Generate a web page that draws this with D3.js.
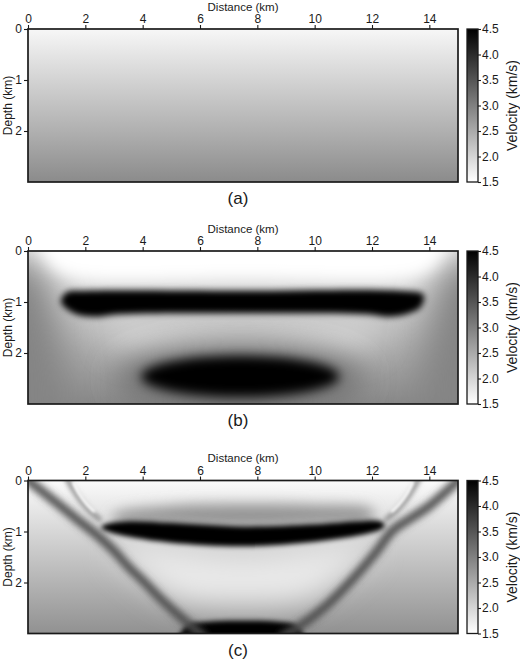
<!DOCTYPE html>
<html><head><meta charset="utf-8">
<script src="https://cdn.jsdelivr.net/npm/d3@7"></script>
<style>
body{margin:0;background:#fff}
svg{display:block}
text{font-family:"Liberation Sans",Arial,Helvetica,sans-serif;fill:#1a1a1a}
</style></head>
<body><svg id="chart" width="520" height="661"></svg>
<script>
// ---------------- data ----------------
const distanceTicks = [0, 2, 4, 6, 8, 10, 12, 14];
const depthTicks = [0, 1, 2];
const velocityTicks = [1.5, 2.0, 2.5, 3.0, 3.5, 4.0, 4.5];
const panelLabels = ["(a)", "(b)", "(c)"];
const distanceRange = [0, 15];   // km
const depthRange = [0, 3];       // km
const velocityRange = [1.5, 4.5];// km/s

// background velocity vs depth (km/s) at depths 0,1,2,3 km
const bgDepths = [0, 1, 2, 3];
const bgVelA = [1.6, 2.02, 2.43, 2.87];
const bgVelB = [1.6, 2.05, 2.5, 2.9];
const bgVelC = [1.55, 1.97, 2.38, 2.8];

// bodies of model (b): outlines in km (x distance, z depth), velocity km/s, smoothing length km
const bodiesB = [
  {kind:"area", v:2.95, smooth:0.35, pts:[[-1.5,0.1],[0.4,0.3],[1.0,1.2],[1.1,3.6],[-1.5,3.6]]},
  {kind:"area", v:2.95, smooth:0.35, pts:[[16.5,0.1],[14.6,0.3],[14.0,1.2],[13.9,3.6],[16.5,3.6]]},
  {kind:"area", v:1.5, smooth:0.15, pts:[[0.5,-0.5],[14.5,-0.5],[14.3,0.2],[13.6,0.47],[7.5,0.52],[1.4,0.47],[0.7,0.2]]},
  {kind:"area", v:2.0, smooth:0.3, pts:[[2.8,1.45],[7.5,1.42],[12.2,1.45],[11.8,1.9],[7.5,1.95],[3.2,1.9]]},
  {kind:"ellipse", v:3.2, smooth:0.3, cx:7.4, cz:2.5, rx:4.3, rz:0.65},
  {kind:"ellipse", v:4.7, smooth:0.1, cx:7.4, cz:2.46, rx:3.45, rz:0.4},
  {kind:"area", v:4.7, smooth:0.06, pts:[[1.15,1.0],[1.35,0.81],[2,0.78],[7.5,0.78],[13,0.78],[13.8,0.86],[13.7,1.1],[13.2,1.24],[12.6,1.29],[11.8,1.24],[7.5,1.22],[3.2,1.24],[2.3,1.29],[1.6,1.22]]}
];

// bodies of model (c)
const bodiesC = [
  {kind:"area", v:2.75, smooth:0.13, pts:[[3.0,0.68],[5,0.5],[7.5,0.46],[10,0.48],[12.0,0.58],[12.0,0.8],[10,0.88],[7.5,0.92],[5,0.88],[3.0,0.84]]},
  {kind:"area", v:1.75, smooth:0.3, pts:[[3,1.3],[7.5,1.42],[12,1.3],[11,1.9],[9.8,2.35],[7.5,2.45],[5.2,2.35],[4,1.9]]},
  {kind:"area", v:4.7, smooth:0.05, pts:[[5.5,2.86],[6.3,2.77],[7.5,2.75],[8.7,2.77],[9.4,2.86],[9.7,3.4],[5.2,3.4]]},
  {kind:"line", v:3.6, width:0.17, smooth:0.07, pts:[[-0.1,-0.05],[1.0,0.44],[1.75,0.78],[2.45,1.09],[3.0,1.38],[3.48,1.68],[4.1,2.02],[4.64,2.33],[5.57,2.8],[6.1,3.05]]},
  {kind:"line", v:3.6, width:0.17, smooth:0.07, pts:[[15.1,-0.05],[14.0,0.5],[13.3,0.76],[12.72,0.98],[12.12,1.42],[11.32,1.94],[10.4,2.46],[9.47,2.86],[8.9,3.05]]},
  {kind:"line", v:2.9, width:0.09, smooth:0.05, pts:[[1.35,-0.05],[1.55,0.15],[1.85,0.4],[2.2,0.62],[2.5,0.76]]},
  {kind:"line", v:2.9, width:0.09, smooth:0.05, pts:[[13.65,-0.05],[13.45,0.15],[13.15,0.4],[12.8,0.62],[12.5,0.76]]},
  {kind:"line", v:1.5, width:0.06, smooth:0.03, pts:[[1.6,0.05],[1.8,0.27],[2.08,0.48],[2.3,0.6]]},
  {kind:"line", v:1.5, width:0.06, smooth:0.03, pts:[[13.4,0.05],[13.2,0.27],[12.92,0.48],[12.7,0.6]]},
  {kind:"area", v:4.7, smooth:0.05, pts:[[2.7,0.86],[3.5,0.8],[5,0.83],[7.5,0.9],[10,0.86],[11.5,0.8],[12.3,0.8],[12.45,0.88],[12.3,0.96],[11.5,1.08],[10,1.2],[7.5,1.29],[5,1.22],[3.5,1.1],[2.7,0.98],[2.55,0.92]]}
];

const panels = [
  {label: panelLabels[0], bg: bgVelA, bodies: []},
  {label: panelLabels[1], bg: bgVelB, bodies: bodiesB},
  {label: panelLabels[2], bg: bgVelC, bodies: bodiesC}
];

// ---------------- layout ----------------
const svg = d3.select("#chart");
const left = 28, right = 458, plotH = 153;
const tops = [29, 251, 480.5];
const cbX = 467, cbW = 11;
const fontFam = "Liberation Sans, Arial, Helvetica, sans-serif";

const x = d3.scaleLinear().domain(distanceRange).range([0, right - left]);
const z = d3.scaleLinear().domain(depthRange).range([0, plotH]);
const color = d3.scaleLinear().domain(velocityRange).range(["#ffffff", "#000000"]).clamp(true);
const cbScale = d3.scaleLinear().domain(velocityRange).range([plotH, 0]);

const defs = svg.append("defs");
const filters = {};
function filterFor(km) {
  const px = +(z(km) - z(0)).toFixed(2);
  const id = "blur" + String(px).replace(".", "_");
  if (!filters[id]) {
    defs.append("filter").attr("id", id)
      .attr("filterUnits", "userSpaceOnUse")
      .attr("x", -200).attr("y", -200).attr("width", 1000).attr("height", 1000)
      .append("feGaussianBlur").attr("stdDeviation", px);
    filters[id] = true;
  }
  return "url(#" + id + ")";
}

function styleAxis(sel) {
  sel.select(".domain").remove();
  sel.selectAll("text").attr("font-size", 12).style("font-family", fontFam).attr("fill", "#1a1a1a");
  sel.selectAll("line").attr("stroke", "#1a1a1a").attr("stroke-width", 1.1);
}

panels.forEach((p, i) => {
  const g = svg.append("g").attr("transform", `translate(${left},${tops[i]})`);
  const clipId = "clip" + i;
  defs.append("clipPath").attr("id", clipId)
    .append("rect").attr("width", x.range()[1]).attr("height", plotH);

  const gradId = "bg" + i;
  const grad = defs.append("linearGradient").attr("id", gradId)
    .attr("x1", 0).attr("y1", 0).attr("x2", 0).attr("y2", 1);
  bgDepths.forEach((d, k) => grad.append("stop")
    .attr("offset", (d - depthRange[0]) / (depthRange[1] - depthRange[0]))
    .attr("stop-color", color(p.bg[k])));

  const field = g.append("g").attr("clip-path", `url(#${clipId})`);
  field.append("rect").attr("width", x.range()[1]).attr("height", plotH).attr("fill", `url(#${gradId})`);

  const areaGen = d3.line().x(d => x(d[0])).y(d => z(d[1])).curve(d3.curveCatmullRomClosed.alpha(0.5));
  const lineGen = d3.line().x(d => x(d[0])).y(d => z(d[1])).curve(d3.curveCatmullRom.alpha(0.5));

  p.bodies.forEach(b => {
    let el;
    if (b.kind === "area") {
      el = field.append("path").attr("d", areaGen(b.pts)).attr("fill", color(b.v));
    } else if (b.kind === "line") {
      el = field.append("path").attr("d", lineGen(b.pts)).attr("fill", "none")
        .attr("stroke", color(b.v)).attr("stroke-width", z(b.width) - z(0)).attr("stroke-linecap", "round");
    } else if (b.kind === "ellipse") {
      el = field.append("ellipse").attr("cx", x(b.cx)).attr("cy", z(b.cz))
        .attr("rx", x(b.rx) - x(0)).attr("ry", z(b.rz) - z(0)).attr("fill", color(b.v));
    }
    el.attr("filter", filterFor(b.smooth));
  });

  // frame
  g.append("rect").attr("width", x.range()[1]).attr("height", plotH)
    .attr("fill", "none").attr("stroke", "#1a1a1a").attr("stroke-width", 1.7);

  // top axis
  const ax = g.append("g").call(d3.axisTop(x).tickValues(distanceTicks).tickSize(4).tickPadding(2).tickFormat(d3.format("d")));
  styleAxis(ax);

  // left axis
  const ay = g.append("g").call(d3.axisLeft(z).tickValues(depthTicks).tickSize(4).tickPadding(2).tickFormat(d3.format("d")));
  styleAxis(ay);

  g.append("text").attr("x", x.range()[1] / 2).attr("y", -18.3).attr("text-anchor", "middle")
    .attr("font-size", 11.5).text("Distance (km)");
  g.append("text").attr("transform", `translate(${12 - left},${plotH / 2}) rotate(-90)`)
    .attr("text-anchor", "middle").attr("font-size", 12).text("Depth (km)");

  // colorbar
  const cb = svg.append("g").attr("transform", `translate(${cbX},${tops[i]})`);
  const cbGradId = "cbg" + i;
  const cg = defs.append("linearGradient").attr("id", cbGradId)
    .attr("x1", 0).attr("y1", 1).attr("x2", 0).attr("y2", 0);
  velocityTicks.forEach(v => cg.append("stop")
    .attr("offset", (v - velocityRange[0]) / (velocityRange[1] - velocityRange[0]))
    .attr("stop-color", color(v)));
  cb.append("rect").attr("width", cbW).attr("height", plotH).attr("fill", `url(#${cbGradId})`)
    .attr("stroke", "#1a1a1a").attr("stroke-width", 1.3);
  const ac = cb.append("g").attr("transform", `translate(${cbW},0)`)
    .call(d3.axisRight(cbScale).tickValues(velocityTicks).tickSize(3).tickPadding(1).tickFormat(d3.format(".1f")));
  styleAxis(ac);
  cb.append("text").attr("transform", `translate(${517 - cbX},${plotH / 2}) rotate(-90)`)
    .attr("text-anchor", "middle").attr("font-size", 14).text("Velocity (km/s)");

  // panel label
  svg.append("text").attr("x", 238).attr("y", tops[i] + plotH + 22)
    .attr("text-anchor", "middle").attr("font-size", 17).text(p.label);
});
</script></body></html>
